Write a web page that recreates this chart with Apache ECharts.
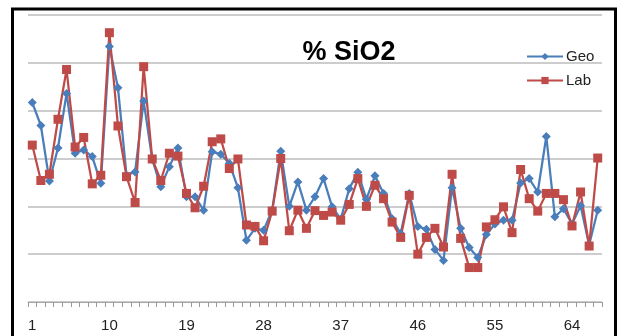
<!DOCTYPE html>
<html>
<head>
<meta charset="utf-8">
<script src="https://cdn.jsdelivr.net/npm/echarts@6/dist/echarts.min.js"></script>
<style>
html,body{margin:0;padding:0;background:#fff;}
#chart{width:617px;height:336px;}
</style>
</head>
<body>
<div id="chart"></div>
<script>
const categories = Array.from({length: 67}, (_, i) => String(i + 1));
const geo = [61.7,56.9,45.3,52.2,63.6,51.1,51.8,50.4,44.8,73.4,
             64.8,46.5,47.2,62.0,49.8,44.1,48.3,52.2,42.0,42.0,
             39.2,51.4,50.9,49.0,43.9,32.9,35.4,35.0,39.2,51.5,
             40.0,45.1,39.2,42.0,45.8,39.9,37.3,43.7,47.1,41.5,
             46.4,42.7,37.4,34.3,42.7,35.8,35.2,31.0,28.7,43.9,
             35.4,31.4,29.3,34.1,36.3,37.1,37.1,44.9,45.8,43.0,
             54.6,37.8,39.5,36.3,40.1,31.9,39.2];
const lab = [52.8,45.4,46.7,58.2,68.6,52.4,54.4,44.7,46.5,76.3,
             56.8,46.2,40.8,69.2,49.9,45.4,51.1,50.5,42.7,39.7,
             44.2,53.5,54.1,47.9,49.9,36.1,35.8,32.8,39.0,50.0,
             34.9,39.2,35.4,39.1,38.1,38.8,37.1,40.4,45.8,40.0,
             44.4,41.6,36.7,33.5,42.3,30.0,33.5,35.4,31.5,46.7,
             33.3,27.2,27.2,35.7,37.2,39.9,34.5,47.7,41.6,39.0,
             42.7,42.7,41.4,35.9,43.0,31.7,50.1];
const titleText = '% SiO2';
const seriesNames = ['Geo', 'Lab'];

const chart = echarts.init(document.getElementById('chart'));
chart.setOption({
  animation: false,
  backgroundColor: '#fff',
  title: {
    text: titleText,
    left: 344, top: 34, textAlign: 'center',
    textStyle: {fontFamily: 'Liberation Sans', fontSize: 27, fontWeight: 'bold', color: '#000'}
  },
  legend: {
    data: seriesNames,
    orient: 'vertical',
    left: 521, top: 44,
    itemWidth: 36, itemHeight: 9, itemGap: 9,
    textStyle: {fontFamily: 'Liberation Sans', fontSize: 15, color: '#222', padding: [0,0,0,-2]}
  },
  graphic: [{
    type: 'rect', z: 100, silent: true,
    shape: {x: 12.5, y: 9, width: 603, height: 400},
    style: {fill: 'none', stroke: '#000', lineWidth: 3}
  }],
  grid: {left: 28, right: 15, top: 15, bottom: 34},
  xAxis: {
    type: 'category', data: categories, boundaryGap: true,
    axisLine: {lineStyle: {color: '#a6a6a6', width: 1}},
    axisTick: {show: true, interval: 0, length: 5, lineStyle: {color: '#9a9a9a', width: 1}},
    axisLabel: {interval: 8, margin: 16, fontFamily: 'Liberation Sans', fontSize: 15, color: '#222'}
  },
  yAxis: {
    type: 'value', min: 20, max: 80, interval: 10,
    axisLine: {show: false}, axisTick: {show: false}, axisLabel: {show: false},
    splitLine: {lineStyle: {color: '#bdbdbd', width: 1.5}}
  },
  series: [
    {name: seriesNames[0], type: 'line', data: geo, symbol: 'diamond', symbolSize: 9, showAllSymbol: true,
     lineStyle: {color: '#4a7ebb', width: 2.25}, itemStyle: {color: '#4a7ebb'}, color: '#4a7ebb'},
    {name: seriesNames[1], type: 'line', data: lab, symbol: 'rect', symbolSize: 9, showAllSymbol: true,
     lineStyle: {color: '#be4b48', width: 2.25}, itemStyle: {color: '#be4b48'}, color: '#be4b48'}
  ]
});
</script>
</body>
</html>
